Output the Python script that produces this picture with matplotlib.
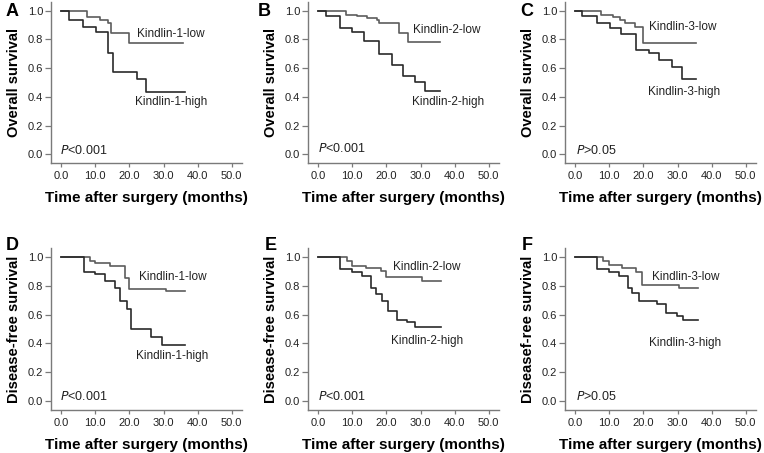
import matplotlib
matplotlib.use("Agg")
import matplotlib.pyplot as plt

plt.rcParams['font.family'] = ['Liberation Sans', 'DejaVu Sans']

# Kaplan-Meier curves (time in months, survival fraction)
# step times include 0 and the last follow-up time
a_low_t = [0, 7.7, 11.5, 13.6, 14.7, 20.0, 35.8]
a_low_s = [1.0, 0.956, 0.933, 0.912, 0.842, 0.772, 0.772]
a_high_t = [0, 2.2, 6.4, 10.2, 13.6, 15.1, 22.1, 25.0, 36.3]
a_high_s = [1.0, 0.933, 0.884, 0.851, 0.702, 0.572, 0.521, 0.437, 0.437]

b_low_t = [0, 8.1, 11.4, 14.4, 17.1, 17.7, 23.6, 26.3, 35.8]
b_low_s = [1.0, 0.972, 0.965, 0.952, 0.933, 0.914, 0.844, 0.781, 0.781]
b_high_t = [0, 2.2, 6.3, 9.9, 13.5, 17.9, 21.5, 24.9, 28.5, 31.3, 35.8]
b_high_s = [1.0, 0.965, 0.881, 0.851, 0.788, 0.700, 0.623, 0.547, 0.505, 0.440, 0.440]

c_low_t = [0, 7.6, 11.2, 13.2, 14.6, 17.4, 19.8, 35.4]
c_low_s = [1.0, 0.972, 0.955, 0.933, 0.912, 0.884, 0.777, 0.777]
c_high_t = [0, 2.1, 6.3, 10.3, 13.3, 17.8, 21.5, 24.7, 28.3, 31.3, 35.4]
c_high_s = [1.0, 0.965, 0.912, 0.877, 0.837, 0.728, 0.705, 0.658, 0.609, 0.521, 0.521]

d_low_t = [0, 8.3, 10.0, 14.2, 18.8, 19.9, 30.7, 36.3]
d_low_s = [1.0, 0.970, 0.954, 0.938, 0.851, 0.777, 0.761, 0.761]
d_high_t = [0, 6.6, 10.0, 12.7, 15.9, 17.1, 19.3, 20.4, 26.4, 29.4, 36.3]
d_high_s = [1.0, 0.894, 0.878, 0.830, 0.782, 0.692, 0.641, 0.499, 0.444, 0.391, 0.391]

e_low_t = [0, 8.3, 9.8, 13.9, 18.4, 20.0, 30.5, 36.1]
e_low_s = [1.0, 0.970, 0.936, 0.924, 0.900, 0.860, 0.832, 0.832]
e_high_t = [0, 6.5, 9.8, 12.7, 15.6, 16.9, 18.8, 20.5, 23.0, 26.1, 28.3, 36.1]
e_high_s = [1.0, 0.913, 0.895, 0.869, 0.782, 0.742, 0.692, 0.621, 0.563, 0.545, 0.513, 0.513]

f_low_t = [0, 8.1, 9.8, 13.7, 17.9, 19.5, 30.3, 35.9]
f_low_s = [1.0, 0.970, 0.943, 0.925, 0.897, 0.805, 0.782, 0.782]
f_high_t = [0, 6.3, 9.8, 12.7, 15.6, 16.6, 18.6, 23.9, 26.7, 29.8, 31.7, 35.9]
f_high_s = [1.0, 0.915, 0.895, 0.869, 0.782, 0.747, 0.694, 0.671, 0.614, 0.593, 0.563, 0.563]

letters = ['A', 'B', 'C', 'D', 'E', 'F']
ylabels = ['Overall survival'] * 3 + ['Disease-free survival'] * 2 + ['Diseasef-ree survival']
low_names = ['Kindlin-1-low', 'Kindlin-2-low', 'Kindlin-3-low'] * 2
high_names = ['Kindlin-1-high', 'Kindlin-2-high', 'Kindlin-3-high'] * 2
p_texts = ['<0.001', '<0.001', '>0.05', '<0.001', '<0.001', '>0.05']
xticks = [0, 10, 20, 30, 40, 50]
yticks = [0.0, 0.2, 0.4, 0.6, 0.8, 1.0]

curves = [
    (a_low_t, a_low_s, a_high_t, a_high_s),
    (b_low_t, b_low_s, b_high_t, b_high_s),
    (c_low_t, c_low_s, c_high_t, c_high_s),
    (d_low_t, d_low_s, d_high_t, d_high_s),
    (e_low_t, e_low_s, e_high_t, e_high_s),
    (f_low_t, f_low_s, f_high_t, f_high_s),
]
# label positions (data coords)
low_pos = [(22.3, 0.837), (27.9, 0.867), (21.7, 0.884), (22.7, 0.862), (22.0, 0.926), (22.4, 0.862)]
high_pos = [(21.6, 0.363), (27.6, 0.363), (21.3, 0.433), (22.0, 0.31), (21.3, 0.414), (21.7, 0.402)]
p_pos = [(-0.5, 0.03), (0.0, 0.04), (0.3, 0.03), (-0.5, 0.03), (0.0, 0.03), (0.3, 0.03)]

fig = plt.figure(figsize=(7.64, 4.53), dpi=100)
W, H = 764.0, 453.0
lefts = [51, 308, 565]
rows = [(2, 163), (248, 410)]
letter_xy = [(6, 12), (258, 12), (520, 12), (6, 245), (265, 245), (522, 245)]

spine_c = '#7a7a7a'
for i in range(6):
    r, c = divmod(i, 3)
    top, bot = rows[r]
    ax = fig.add_axes([lefts[c] / W, (H - bot) / H, 191 / W, (bot - top) / H])
    lt, ls, ht, hs = curves[i]
    ax.step(lt, ls, where='post', color='#5c5c5c', lw=1.2)
    ax.step(ht, hs, where='post', color='#2a2a2a', lw=1.2)
    ax.set_xlim(-3, 53)
    ax.set_ylim(-0.06, 1.06)
    ax.set_xticks(xticks)
    ax.set_xticklabels(['%.1f' % v for v in xticks])
    ax.set_yticks(yticks)
    ax.set_yticklabels(['%.1f' % v for v in yticks])
    for s in ['top', 'right']:
        ax.spines[s].set_visible(False)
    for s in ['left', 'bottom']:
        ax.spines[s].set_color(spine_c)
        ax.spines[s].set_linewidth(1.0)
    ax.tick_params(width=0.9, color=spine_c, labelsize=8, labelcolor='#222222')
    ax.tick_params(axis='y', length=4, pad=1.5)
    ax.tick_params(axis='x', length=3, pad=3)
    ax.set_xlabel('Time after surgery (months)', fontsize=11, fontweight='bold', labelpad=7)
    ax.set_ylabel(ylabels[i], fontsize=10.5, fontweight='bold', labelpad=5)
    ax.text(low_pos[i][0], low_pos[i][1], low_names[i], fontsize=8.5, va='center', color='#222222')
    ax.text(high_pos[i][0], high_pos[i][1], high_names[i], fontsize=8.5, va='center', color='#222222')
    ax.text(p_pos[i][0], p_pos[i][1], r'$\it{P}$' + p_texts[i], fontsize=9, va='center', color='#222222')
    fig.text(letter_xy[i][0] / W, 1 - letter_xy[i][1] / H, letters[i],
             fontsize=13, fontweight='bold', ha='left', va='center')

fig.savefig('out.png', dpi=100)
